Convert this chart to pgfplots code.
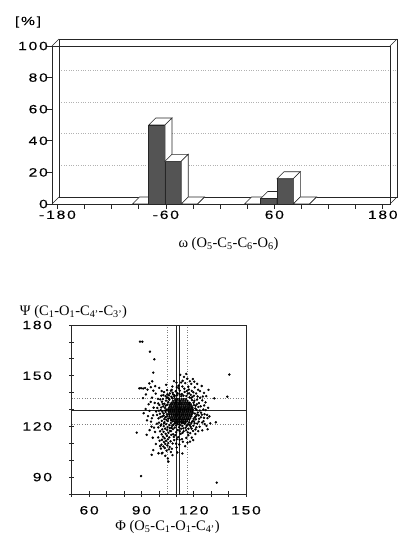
\documentclass[border=0pt]{standalone}
\usepackage{pgfplots}
\pgfplotsset{compat=1.18}
\usepackage{fontspec}
\setmainfont{Liberation Serif}
\newfontfamily\tickfont[FakeStretch=1.3,LetterSpace=15,FakeBold=0.3]{Liberation Sans}
\definecolor{barfront}{rgb}{0.33,0.33,0.33}
\definecolor{ln}{rgb}{0.15,0.15,0.15}

% 3D bar drawn at the data point (x centre, y top); uses \ry (bar value)
\pgfdeclareplotmark{bar3d}{%
  \pgfmathsetlengthmacro\hh{\ry*1.58pt}%
  \pgfsetfillcolor{barfront}%
  \pgfpathrectangle{\pgfpoint{-8.13pt}{-\hh}}{\pgfpoint{16.27pt}{\hh}}%
  \pgfusepath{fill,stroke}%
  \pgfsetfillcolor{white}%
  \pgfpathmoveto{\pgfpoint{-8.13pt}{0pt}}%
  \pgfpathlineto{\pgfpoint{-1.13pt}{7pt}}%
  \pgfpathlineto{\pgfpoint{15.13pt}{7pt}}%
  \pgfpathlineto{\pgfpoint{8.13pt}{0pt}}%
  \pgfpathclose
  \pgfusepath{fill,stroke}%
  \pgfpathmoveto{\pgfpoint{8.13pt}{0pt}}%
  \pgfpathlineto{\pgfpoint{15.13pt}{7pt}}%
  \pgfpathlineto{\pgfpoint{15.13pt}{7pt-\hh}}%
  \pgfpathlineto{\pgfpoint{8.13pt}{-\hh}}%
  \pgfpathclose
  \pgfusepath{fill,stroke}%
}

\begin{document}
\begin{tikzpicture}[x=1pt,y=1pt]
\useasboundingbox (0,0) rectangle (399,538);

% ---------------- top: omega histogram ----------------
\begin{axis}[
  at={(52pt,334pt)}, anchor=south west, scale only axis,
  width=338pt, height=158pt,
  xmin=-186, xmax=188, ymin=0, ymax=100,
  clip=false,
  axis line style={ln, line width=0.6pt},
  xtick={-180,-150,...,180},
  xticklabels={-\,180,,,,-60,,,,60,,,,180},
  ytick={0,20,...,100},
  yticklabels={0,20,40,60,80,100},
  xtick pos=left, ytick pos=left,
  tick align=outside, major tick length=5pt,
  tick style={ln, line width=0.6pt},
  ticklabel style={font=\tickfont\fontsize{12}{13}\selectfont},
  xticklabel style={yshift=2pt},
  yticklabel style={inner sep=0pt, xshift=1pt},
  ymajorgrids,
  grid style={dotted, gray!60, line width=0.6pt, xshift=7pt, yshift=7pt},
]
\draw[ln, line width=0.6pt] ([shift={(7pt,7pt)}]rel axis cs:0,0) rectangle ([shift={(7pt,7pt)}]rel axis cs:1,1);
\draw[ln, line width=0.6pt] (rel axis cs:0,0) -- ++(7pt,7pt);
\draw[ln, line width=0.6pt] (rel axis cs:0,1) -- ++(7pt,7pt);
\draw[ln, line width=0.6pt] (rel axis cs:1,1) -- ++(7pt,7pt);
\draw[ln, line width=0.6pt] (rel axis cs:1,0) -- ++(7pt,7pt);
\addplot[only marks, mark=bar3d, mark options={draw=ln, line width=0.6pt},
  visualization depends on={rawy \as \ry}]
  coordinates {(-88,0) (-70,50) (-52,27) (-34,0) (36,0) (54,3.5) (72,16) (90,0)};
\end{axis}

% ---------------- bottom: Phi / Psi scatter ----------------
\begin{axis}[
  at={(71.7pt,44pt)}, anchor=south west, scale only axis,
  width=174.3pt, height=169pt,
  xmin=50, xmax=150, ymin=80, ymax=180,
  clip=true,
  axis line style={ln, line width=0.6pt},
  xtick={50,60,...,150},
  xticklabels={,60,,,90,,,120,,,150},
  ytick={80,90,...,180},
  yticklabels={,90,,,120,,,150,,,180},
  xtick pos=left, ytick pos=left,
  tick align=center, major tick length=5pt,
  tick style={ln, line width=0.6pt},
  ticklabel style={font=\tickfont\fontsize{12}{13}\selectfont},
  xticklabel style={yshift=-6pt},
  yticklabel style={inner sep=0pt, xshift=-17pt},
]
\addplot[dotted, gray, line width=0.6pt] coordinates {(104.8,80) (104.8,180)};
\addplot[dotted, gray, line width=0.6pt] coordinates {(116.6,80) (116.6,180)};
\addplot[dotted, gray, line width=0.6pt] coordinates {(50,136.4) (150,136.4)};
\addplot[dotted, gray, line width=0.6pt] coordinates {(50,121.4) (150,121.4)};
\addplot[ln, line width=0.5pt] coordinates {(110.2,80) (110.2,180)};
\addplot[ln, line width=0.5pt] coordinates {(111.5,80) (111.5,180)};
\addplot[ln, line width=0.6pt] coordinates {(50,129.3) (150,129.3)};
\addplot[only marks, mark=*, mark size=1.0pt, black] coordinates {
(109.3,136.2)(110.6,136.2)(111.8,136.2)(113.1,136.2)(114.2,136.2)(115.6,136.2)
(108.1,135.1)(109.4,135.1)(110.3,135.1)(111.7,135.1)(112.6,135.1)(113.9,135.1)(115.1,135.1)(116.4,135.1)
(107.3,134.0)(108.6,134.0)(109.7,134.0)(110.9,134.0)(112.1,134.0)(113.2,134.0)(114.5,134.0)(115.6,134.0)(116.8,134.0)(117.7,134.0)
(106.6,133.1)(107.8,133.1)(109.0,133.1)(110.2,133.1)(111.3,133.1)(112.7,133.1)(113.8,133.1)(114.9,133.1)(116.2,133.1)(117.3,133.1)(118.4,133.1)
(106.2,132.0)(107.3,132.0)(108.5,132.0)(109.6,132.0)(110.8,132.0)(112.0,132.0)(113.1,132.0)(114.3,132.0)(115.5,132.0)(116.7,132.0)(117.8,132.0)(118.9,132.0)
(105.9,131.0)(107.1,131.0)(108.2,131.0)(109.4,131.0)(110.5,131.0)(111.6,131.0)(112.8,131.0)(114.0,131.0)(115.1,131.0)(116.3,131.0)(117.4,131.0)(118.6,131.0)(119.3,131.0)
(105.7,130.1)(106.8,130.1)(108.0,130.1)(109.1,130.1)(110.3,130.1)(111.4,130.1)(112.5,130.1)(113.7,130.1)(114.8,130.1)(116.0,130.1)(117.1,130.1)(118.3,130.1)(119.4,130.1)
(105.6,129.0)(106.7,129.0)(107.9,129.0)(109.0,129.0)(110.2,129.0)(111.3,129.0)(112.4,129.0)(113.6,129.0)(114.7,129.0)(115.9,129.0)(117.0,129.0)(118.2,129.0)(119.3,129.0)
(105.8,128.0)(107.0,128.0)(108.1,128.0)(109.3,128.0)(110.4,128.0)(111.5,128.0)(112.7,128.0)(113.8,128.0)(115.0,128.0)(116.1,128.0)(117.3,128.0)(118.4,128.0)(119.5,128.0)
(105.9,127.0)(107.2,127.0)(108.4,127.0)(109.5,127.0)(110.7,127.0)(111.8,127.0)(113.0,127.0)(114.1,127.0)(115.3,127.0)(116.4,127.0)(117.6,127.0)(118.8,127.0)
(106.1,126.1)(107.4,126.1)(108.6,126.1)(109.7,126.1)(110.9,126.1)(112.1,126.1)(113.2,126.1)(114.4,126.1)(115.6,126.1)(116.7,126.1)(117.9,126.1)(118.7,126.1)
(106.5,125.0)(107.7,125.0)(108.9,125.0)(110.0,125.0)(111.2,125.0)(112.3,125.0)(113.5,125.0)(114.6,125.0)(115.8,125.0)(116.9,125.0)(118.1,125.0)
(107.1,124.0)(108.3,124.0)(109.4,124.0)(110.6,124.0)(111.7,124.0)(112.9,124.0)(114.0,124.0)(115.2,124.0)(116.3,124.0)(117.5,124.0)
(108.0,123.0)(109.2,123.0)(110.4,123.0)(111.5,123.0)(112.7,123.0)(113.8,123.0)(115.0,123.0)(116.2,123.0)
(109.4,122.1)(110.6,122.1)(111.8,122.1)(113.0,122.1)(114.1,122.1)(115.3,122.1)
(104.2,121.3)(106.1,120.8)(102.8,120.2)(105.0,119.6)(107.3,119.1)(103.6,118.7)(101.9,118.2)(104.8,117.9)(106.4,117.3)(102.7,116.8)
(105.5,116.2)(103.9,115.6)(101.6,115.3)(107.1,115.0)(104.6,114.4)(102.4,113.9)(106.0,113.5)(103.3,113.0)(105.2,112.4)(101.8,112.1)
(104.1,111.5)(106.7,111.2)(102.9,110.7)(105.4,110.1)(103.7,109.6)(101.5,109.2)(104.9,108.7)(102.6,108.1)(106.2,107.8)(103.4,107.2)
(105.8,106.4)(101.2,106.9)(108.1,118.4)(100.7,117.1)(108.6,113.8)(107.9,109.9)(100.4,111.5)(104.4,105.6)(102.1,104.3)(106.9,104.8)
(103.0,121.8)(101.0,120.4)
(110.5,138.4)(113.2,139.1)(115.8,138.0)(108.2,138.9)(117.4,139.6)(112.0,141.2)(114.6,142.3)(116.9,143.5)(111.3,144.1)(115.1,145.6)
(113.7,147.0)(116.3,148.2)(114.4,149.3)(109.7,140.8)(107.4,141.6)(118.9,141.0)(120.6,143.1)(106.3,139.5)(119.2,137.4)(105.0,137.1)
(104.1,135.2)(103.2,133.4)(101.8,134.6)(102.5,131.8)(100.3,132.7)(99.1,130.9)(101.1,129.6)(103.9,128.5)(102.8,126.4)(100.6,127.5)
(98.4,128.8)(97.6,133.9)(99.5,136.3)(101.4,138.2)(103.0,140.3)(98.2,139.4)(96.1,137.0)(95.3,134.5)(97.0,131.1)(94.6,129.2)
(96.7,126.6)(99.8,124.7)(101.7,123.3)(104.3,123.9)(98.9,121.6)(97.2,119.3)(95.5,122.8)(93.8,126.1)
(89.8,142.6)(91.0,142.4)(92.1,142.7)(93.5,141.8)(94.5,145.4)(95.4,143.2)(96.8,141.1)(97.9,143.8)(92.6,138.9)(90.9,136.7)
(94.1,133.1)(92.4,130.3)(93.2,123.6)(95.8,119.9)(91.3,127.8)(96.2,146.7)
(120.4,135.2)(121.8,133.1)(120.9,130.6)(122.4,128.2)(121.3,126.0)(123.1,124.5)(124.7,126.9)(125.6,123.1)(122.0,121.7)(120.1,123.0)
(119.8,120.4)(118.2,119.8)(117.0,118.6)(115.4,119.2)(113.5,120.3)(111.6,119.5)(109.8,120.6)(110.9,117.8)(114.2,117.1)(112.5,115.6)
(116.6,116.4)(119.6,117.3)(123.4,119.8)(126.3,121.4)(124.0,131.9)(126.8,134.2)(123.7,137.0)(121.4,139.5)(125.9,139.8)(127.9,124.9)
(129.5,121.8)(128.0,118.3)(132.7,122.4)(131.8,136.6)(128.5,141.6)(120.3,146.5)(118.6,145.2)(113.5,104.0)(117.9,111.0)(115.8,113.2)
(109.4,114.8)(108.8,111.9)(111.7,109.3)(107.5,106.8)(110.2,107.5)(121.0,115.5)(118.9,113.4)
(87.3,116.3)(93.0,115.0)(95.9,103.2)(96.8,106.0)(99.8,104.1)(101.7,104.0)(105.5,99.2)(105.2,101.0)(98.3,109.6)(96.5,113.3)(94.7,117.8)
(89.2,170.2)(90.5,170.1)(94.9,164.2)(97.4,159.7)(96.8,151.8)(140.4,150.7)(139.3,137.6)(89.8,90.6)(133.2,86.7)(88.8,142.5)
(104.6,136.8)(103.5,131.0)(104.8,126.0)(106.9,122.0)(108.3,121.0)(112.2,120.8)(116.8,121.2)(119.9,124.4)(120.7,127.6)(120.2,132.6)
(119.0,135.6)(117.6,137.2)(112.9,137.9)(107.2,137.5)(105.4,134.3)(104.5,129.9)(104.0,132.3)(121.6,129.8)(121.2,124.2)(118.6,122.0)
(110.8,139.6)(114.8,140.4)(118.3,138.6)(103.8,125.4)(105.1,123.2)(107.6,120.2)(114.9,121.5)(117.8,120.9)(120.5,121.9)(122.9,126.5)
(123.5,129.4)(122.7,131.5)(121.9,135.9)(120.1,138.1)(116.1,141.0)(111.4,142.5)(108.9,137.6)(106.0,135.8)(102.3,136.2)(102.0,128.7)
(103.1,124.3)(100.9,125.5)(99.6,133.6)(101.6,140.9)(104.7,141.4)(107.8,143.6)(110.1,145.9)(112.8,146.0)(117.8,146.7)(119.5,148.0)
(122.5,141.7)(124.9,135.4)(125.5,130.0)(126.2,127.2)(124.8,122.3)(121.5,119.5)(118.0,116.0)(114.0,118.8)(112.0,117.2)(109.9,116.5)
(107.0,117.2)(108.2,115.3)(111.1,113.6)(113.3,112.5)(116.4,110.4)(119.7,111.9)(122.6,117.2)(124.9,117.7)(127.3,120.3)(129.0,125.9)
(128.3,131.0)(127.2,137.9)(124.6,143.9)(122.0,145.2)(112.3,150.5)(115.7,151.1)(108.7,146.8)(104.2,144.6)(100.2,142.8)(99.0,126.8)
(96.0,124.8)(97.8,116.7)(99.6,113.5)(100.7,108.3)(107.8,103.0)(110.6,104.6)(111.9,112.1)(109.9,109.8)(103.7,102.6)(99.7,119.4)
(100.1,122.2)
(103.9,137.9)(105.8,138.4)(107.9,139.9)(109.0,138.3)(111.9,139.0)(114.1,138.2)(116.6,139.4)(118.5,136.8)(119.9,134.0)(121.1,132.2)
(121.9,127.0)(120.6,125.3)(119.2,123.0)(117.4,122.4)(116.0,120.4)(113.9,122.0)(111.0,121.2)(109.1,121.8)(107.0,123.5)(105.5,124.6)
(104.6,127.2)(103.6,129.4)(104.9,132.9)(105.9,136.4)(107.8,136.6)(102.2,133.3)(101.3,131.2)(102.7,127.6)(101.9,125.9)(103.2,122.5)
(106.3,119.0)(109.1,119.3)(112.8,118.6)(115.6,117.7)(118.8,118.7)(121.0,118.2)(122.9,122.8)(124.1,125.4)(123.0,133.8)(122.2,137.7)
(119.8,140.2)(117.2,141.8)(113.5,143.6)(110.3,143.2)(106.9,141.1)(104.9,139.0)(102.6,138.5)(100.8,136.0)(100.0,129.3)(101.4,121.2)
(124.2,128.1)(126.0,132.4)(125.3,137.7)(123.6,140.9)(126.9,129.6)(127.7,126.8)(125.9,125.1)(113.6,116.2)(116.9,114.8)(110.3,112.4)
(113.8,110.9)(115.1,108.3)
};
\end{axis}

% ---------------- labels ----------------
\node[font=\tickfont\fontsize{12}{13}\selectfont] at (28,516) {[\%]};
\node[font=\fontsize{14.5}{15}\selectfont] at (228.5,294) {ω (O\textsubscript{5}-C\textsubscript{5}-C\textsubscript{6}-O\textsubscript{6})};
\node[font=\fontsize{14.5}{15}\selectfont] at (73.5,226) {Ψ (C\textsubscript{1}-O\textsubscript{1}-C\textsubscript{4'}-C\textsubscript{3'})};
\node[font=\fontsize{14.5}{15}\selectfont] at (167.5,11) {Φ (O\textsubscript{5}-C\textsubscript{1}-O\textsubscript{1}-C\textsubscript{4'})};
\end{tikzpicture}
\end{document}
